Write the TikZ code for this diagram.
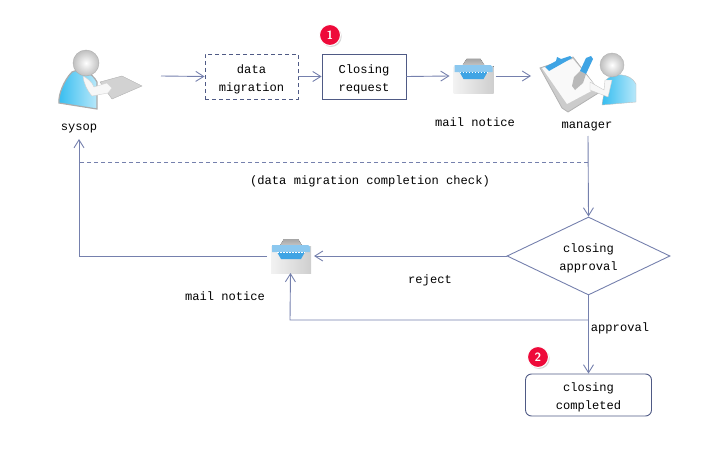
\documentclass[tikz,border=0pt]{standalone}
\usepackage{fontspec}
\usepackage{tikz}
\setmonofont{Liberation Mono}
\usetikzlibrary{shapes,arrows,positioning,calc,arrows.meta,shadows}

\definecolor{flowline}{HTML}{7580AD}
\definecolor{boxline}{HTML}{4F5A85}
\definecolor{badgered}{HTML}{EE0A3A}
\definecolor{bodyblue}{HTML}{35BDF0}
\definecolor{mailblue}{HTML}{3FA4E4}

\newcommand{\linetop}{\rule{0pt}{14pt}}

\tikzset{
    flow/.style={draw=flowline, line width=0.9pt, -{Straight Barb[length=8pt,width=10pt]}},
    plainflow/.style={draw=flowline, line width=0.9pt},
    label/.style={font=\ttfamily\fontsize{12.1}{18}\selectfont, align=center, inner sep=0pt},
    oneline/.style={label, anchor=base},
    stepbox/.style={label, draw=boxline, line width=0.9pt, minimum width=84pt, minimum height=45pt},
    icon/.style={inner sep=0pt, outer sep=0pt},
    badge/.style={circle, fill=badgered, draw=white, line width=1pt, minimum size=21pt, inner sep=0pt,
        drop shadow={shadow xshift=1.2pt, shadow yshift=-1.5pt, fill=gray!60},
        text=white, font=\sffamily\bfseries\fontsize{12}{12}\selectfont},
}

% envelope, 40 wide, drawn round its centre
\newcommand{\mailicon}[1]{
    \begin{scope}[shift={(#1)}]
        \fill[top color=gray!70, bottom color=gray!40] (-12,-9) -- (-7,-17) -- (7,-17) -- (12,-9) -- cycle;
        \fill[left color=gray!10, right color=gray!38] (-20,-10) -- (20,-10) -- (20,17) -- (-20,17) -- cycle;
        \fill[color=mailblue!60] (-19,-11) -- (17,-11) -- (19,-9) -- (19,-4) -- (-19,-4) -- cycle;
        \fill[mailblue] (-14,-4) -- (14,-4) -- (10,3) -- (-10,3) -- cycle;
        \draw[white, dash pattern=on 1.5pt off 1.5pt, line width=1pt] (-14,-4) -- (14,-4);
    \end{scope}
}

\begin{document}
\begin{tikzpicture}[x=1pt, y=-1pt]
    \useasboundingbox (0,0) rectangle (714,452);

    % sysop figure
    \fill[gray!35, draw=gray!60] (100,82) -- (122,76) -- (142,86) -- (112,99) -- (107,92) -- cycle;
    \path[left color=bodyblue, right color=bodyblue!35, draw=gray!65, line width=1.2pt] (72,72) .. controls (64,80) and (58,95) .. (59,103) -- (97,109) -- (97,82) .. controls (92,72) and (80,68) .. (72,72) -- cycle;
    \fill[gray!6, draw=gray!35] (83,76) .. controls (87,78) and (92,82) .. (94,87) -- (107,83) -- (112,88) -- (108,93) -- (92,96) .. controls (87,90) and (84,84) .. (83,76) -- cycle;
    \shade[inner color=white, outer color=gray!50, draw=gray!65] (86,63) circle (13);

    % manager figure
    \fill[gray!40, draw=gray!60, line width=0.8pt] (540,68) -- (573,57) -- (600,92) -- (568,112) -- (562,108) -- cycle;
    \fill[gray!5] (542,68) -- (573,59) -- (597,88) -- (567,104) -- cycle;
    \fill[mailblue] (545,67) -- (556,61) -- (557,57) -- (561,59) -- (570,56) -- (572,58) -- (549,71) -- cycle;
    \fill[gray!55] (580,71) -- (586,74) -- (583,83) -- (575,90) -- (572,86) -- (574,77) -- cycle;
    \fill[mailblue] (580,71) -- (586,58) -- (591,56) -- (593,59) -- (586,74) -- cycle;
    \path[left color=bodyblue, right color=bodyblue!35, draw=gray!50] (606,80) .. controls (612,73) and (630,72) .. (636,84) -- (636,102) -- (602,105) -- cycle;
    \fill[gray!6, draw=gray!40] (590,82) -- (604,90) -- (605,80) -- (612,80) -- (608,97) -- (590,90) -- cycle;
    \shade[inner color=white, outer color=gray!50, draw=gray!60] (612,65) circle (12);

    % process row
    \coordinate (sysopout) at (161,76);
    \node[oneline] (sysoplabel) at (79,130.5) {sysop};
    \node[stepbox, minimum width=93pt, dash pattern=on 4pt off 3pt] (migration) at (251.5,76.5) {\linetop data\\migration};
    \node[stepbox] (request) at (364,76.5) {\linetop Closing\\request};
    \node[icon, minimum width=46pt, minimum height=34pt] (mailtop) at (472.5,76) {};
    \mailicon{473.5,76}
    \node[oneline] (mailtoplabel) at (475,126.5) {mail notice};
    \node[oneline] (managerlabel) at (587,128) {manager};
    \coordinate (managerin) at (531,76);

    \draw[flow] (sysopout) -- (migration.west);
    \draw[flow] (migration.east) -- (request.west);
    \draw[flow] (request.east) -- (mailtop.west);
    \draw[flow] (mailtop.east) -- (managerin);

    % decision
    \node[label, draw=flowline, line width=0.9pt, shape=diamond, aspect=2.09, minimum width=163pt, minimum height=78pt] (approval) at (588.5,256) {\linetop closing\\approval};
    \node[label, draw=boxline, line width=0.9pt, rounded corners=6pt, minimum width=126pt, minimum height=42pt] (completed) at (588.5,395) {\linetop closing\\completed};
    \node[icon, minimum width=47pt, minimum height=34pt] (mailback) at (290.5,256) {};
    \mailicon{291,256}
    \node[oneline] (mailbacklabel) at (225,300.5) {mail notice};

    \coordinate (managerout) at (588,136);
    \coordinate (checkcorner) at (588,162);
    \coordinate (sysopturn) at (79,162);
    \coordinate (mailturn) at (79,256);
    \coordinate (approvaljoin) at (588,320);
    \coordinate (backturn) at (290,320);
    \coordinate (sysopup) at (79,139);

    \draw[flow] (managerout) -- (approval.north);
    \draw[plainflow, dash pattern=on 4pt off 3pt] (checkcorner) -- (sysopturn);
    \draw[flow] (approval.west) -- (mailback.east);
    \draw[flow] (mailback.west) -- (mailturn) -- (sysopup);
    \draw[flow] (approval.south) -- (completed.north);
    \draw[flow] (approvaljoin) -- (backturn) -- (mailback.south);

    \node[oneline] (checklabel) at (370,184) {(data migration completion check)};
    \node[oneline] (rejectlabel) at (430,283) {reject};
    \node[oneline] (approvallabel) at (620,331.5) {approval};

    \node[badge] (badgeone) at (330,35) {1};
    \node[badge] (badgetwo) at (538,357) {2};
\end{tikzpicture}
\end{document}
